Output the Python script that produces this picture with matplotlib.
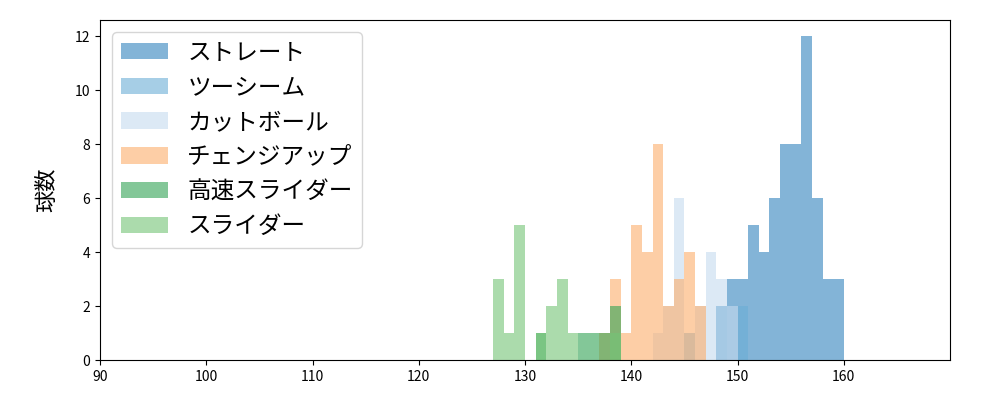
import matplotlib
matplotlib.use("Agg")
import matplotlib.pyplot as plt
import numpy as np

plt.rcParams['font.family'] = ['Noto Sans CJK JP', 'DejaVu Sans']

# pitch types (legend order) and colours
pitch_names = ["ストレート", "ツーシーム", "カットボール", "チェンジアップ", "高速スライダー", "スライダー"]
pitch_colors = ["#3182bd", "#6baed6", "#c6dbef", "#fdae6b", "#31a354", "#74c476"]

# bin start speed (km/h) -> count, per pitch type
straight_speed = [148, 149, 150, 151, 152, 153, 154, 155, 156, 157, 158, 159]
straight_count = [2, 3, 3, 5, 4, 6, 8, 8, 12, 6, 3, 3]

twoseam_speed = [145, 148, 150]
twoseam_count = [1, 2, 2]

cutter_speed = [142, 143, 144, 146, 147, 148, 149]
cutter_count = [1, 2, 6, 2, 4, 3, 2]

change_speed = [137, 138, 139, 140, 141, 142, 143, 144, 145, 146]
change_count = [1, 3, 1, 5, 4, 8, 2, 3, 4, 2]

fastslider_speed = [131, 135, 136, 137, 138]
fastslider_count = [1, 1, 1, 1, 2]

slider_speed = [127, 128, 129, 131, 132, 133, 134, 138]
slider_count = [3, 1, 5, 1, 2, 3, 1, 1]

x_ticks = [90, 100, 110, 120, 130, 140, 150, 160]
y_label = "球数"

series = [
    (straight_speed, straight_count),
    (twoseam_speed, twoseam_count),
    (cutter_speed, cutter_count),
    (change_speed, change_count),
    (fastslider_speed, fastslider_count),
    (slider_speed, slider_count),
]

bins = np.arange(90, 171, 1)

fig, ax = plt.subplots(figsize=(10, 4), dpi=100)
fig.subplots_adjust(left=0.1, right=0.95, top=0.95, bottom=0.1)

for (speeds, counts), name, color in zip(series, pitch_names, pitch_colors):
    ax.hist(np.array(speeds) + 0.5, bins=bins, weights=counts, color=color,
            alpha=0.6, label=name)

ax.set_xlim(90, 170)
ax.set_xticks(x_ticks)
ax.set_ylabel(y_label, fontsize=16, labelpad=12)
ax.legend(loc="upper left", fontsize=17)

fig.savefig("out.png", dpi=100)
